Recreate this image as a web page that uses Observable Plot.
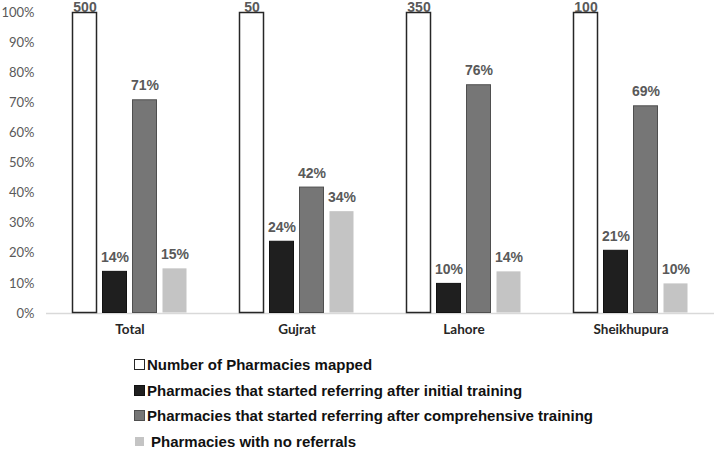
<!DOCTYPE html>
<html>
<head>
<meta charset="utf-8">
<script src="https://cdn.jsdelivr.net/npm/d3@7"></script>
<script src="https://cdn.jsdelivr.net/npm/@observablehq/plot@0.6"></script>
<style>
  html, body { margin: 0; padding: 0; background: #fff; }
  #chart svg { overflow: visible; display: block; }
  #legend { padding-top: 7px; padding-left: 134px; font-family: "Liberation Sans", Arial, sans-serif; font-weight: bold; font-size: 15px; color: #111; }
  .row { height: 25.5px; display: flex; align-items: center; }
  .sw { width: 11px; height: 11px; box-sizing: border-box; margin-right: 2px; flex: none; }
</style>
</head>
<body>
<div id="chart"></div>
<div id="legend"></div>
<script>
const categories = ["Total", "Gujrat", "Lahore", "Sheikhupura"];
const series = [
  "Number of Pharmacies mapped",
  "Pharmacies that started referring after initial training",
  "Pharmacies that started referring after comprehensive training",
  "Pharmacies with no referrals"
];
const mappedCount = [500, 50, 350, 100];
const mappedShare = [100, 100, 100, 100];
const initialTraining = [14, 24, 10, 21];
const comprehensiveTraining = [71, 42, 76, 69];
const noReferrals = [15, 34, 14, 10];
const yTicks = [0, 10, 20, 30, 40, 50, 60, 70, 80, 90, 100];

const fills = ["#ffffff", "#1f1f1f", "#767676", "#c4c4c4"];
const strokes = ["#262626", "#111111", "#4f4f4f", "none"];

const rows = [];
categories.forEach((c, i) => {
  rows.push({category: c, series: series[0], value: mappedShare[i], label: String(mappedCount[i]), s: 0});
  rows.push({category: c, series: series[1], value: initialTraining[i], label: initialTraining[i] + "%", s: 1});
  rows.push({category: c, series: series[2], value: comprehensiveTraining[i], label: comprehensiveTraining[i] + "%", s: 2});
  rows.push({category: c, series: series[3], value: noReferrals[i], label: noReferrals[i] + "%", s: 3});
});

const barMarks = series.map((name, k) => Plot.barY(rows.filter(d => d.s === k), {
  fx: "category", x: "series", y: "value",
  fill: fills[k], stroke: strokes[k], strokeWidth: k === 0 ? 1.5 : 1,
  inset: 0.5
}));

const chart = Plot.plot({
  width: 716,
  height: 345,
  marginLeft: 45,
  marginRight: 1,
  marginTop: 12,
  marginBottom: 32,
  style: {background: "#fff"},
  fx: {domain: categories, padding: 0, label: null},
  x: {domain: series, paddingInner: 0.176, paddingOuter: 0.849, axis: null},
  y: {domain: [0, 100], label: null},
  marks: [
    Plot.axisY({ticks: yTicks, tickSize: 0, tickPadding: 12, tickFormat: d => d + "%", label: null,
      fontFamily: "Lato, sans-serif", fontSize: 13, fill: "#595959"}),
    Plot.axisFx({anchor: "bottom", tickSize: 0, tickPadding: 11, label: null,
      fontFamily: "Lato, sans-serif", fontSize: 13.5, fontWeight: "bold", fill: "#262626"}),
    Plot.ruleY([0], {stroke: "#d9d9d9", strokeWidth: 1.5}),
    ...barMarks,
    Plot.text(rows.filter(d => d.s === 0), {fx: "category", x: "series", y: "value", text: "label", dy: -4.5,
      fontFamily: "Liberation Sans, Arial, sans-serif", fontSize: 14, fontWeight: "bold", fill: "#595959"}),
    Plot.text(rows.filter(d => d.s !== 0), {fx: "category", x: "series", y: "value", text: "label", dy: -14,
      fontFamily: "Liberation Sans, Arial, sans-serif", fontSize: 14, fontWeight: "bold", fill: "#595959"})
  ]
});
document.getElementById("chart").appendChild(chart);

const legend = document.getElementById("legend");
series.forEach((name, k) => {
  const row = document.createElement("div");
  row.className = "row";
  const sw = document.createElement("span");
  sw.className = "sw";
  sw.style.background = fills[k];
  if (strokes[k] !== "none") sw.style.border = "1.5px solid " + strokes[k];
  if (k === 3) { sw.style.marginRight = "7px"; sw.style.width = "9px"; sw.style.height = "9px"; sw.style.marginLeft = "1px"; }
  const t = document.createElement("span");
  t.textContent = name;
  row.appendChild(sw);
  row.appendChild(t);
  legend.appendChild(row);
});
</script>
</body>
</html>
